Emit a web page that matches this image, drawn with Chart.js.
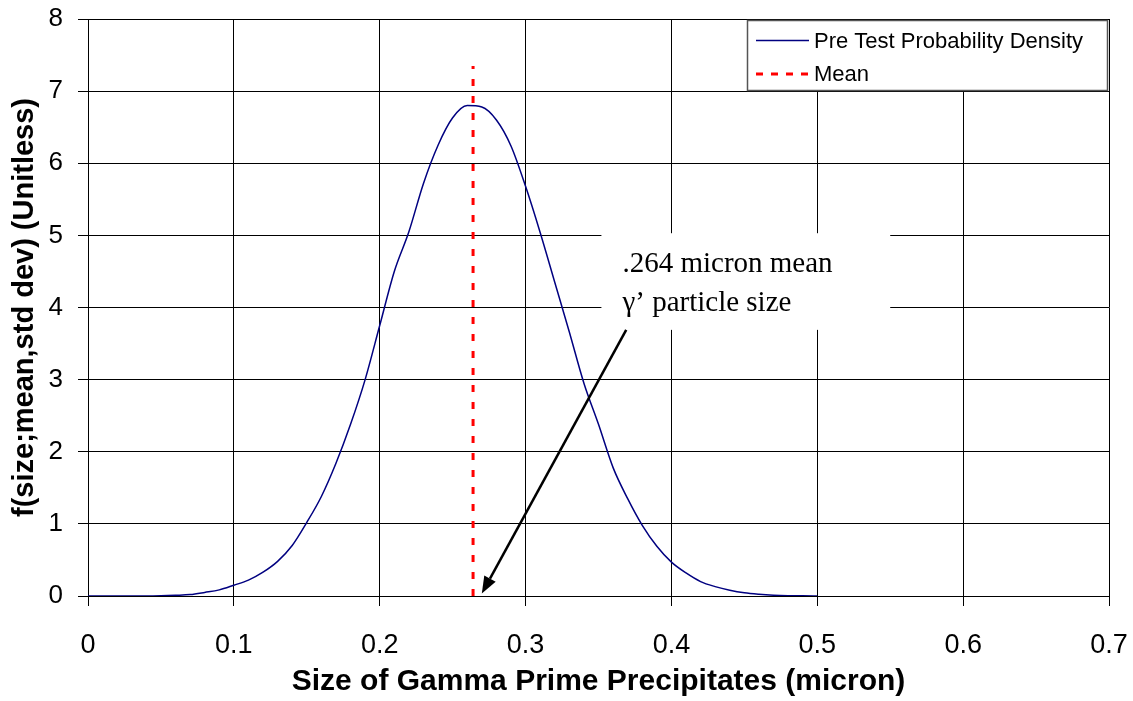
<!DOCTYPE html>
<html lang="en">
<head>
<meta charset="UTF-8">
<title>Gamma Prime Precipitate Size</title>
<style>
    body { margin: 0; background: #fff; }
    #chart { display: block; }
</style>
</head>
<body>
<canvas id="chart" width="1133" height="701"></canvas>

<script src="https://cdn.jsdelivr.net/npm/chart.js"></script>
<script>
    // size of gamma prime precipitates (micron) and density
    const sizes = [0, 0.01, 0.02, 0.03, 0.04, 0.05, 0.06, 0.07, 0.08, 0.09,
                   0.10, 0.11, 0.12, 0.13, 0.14, 0.15, 0.16, 0.17, 0.18, 0.19,
                   0.20, 0.21, 0.22, 0.23, 0.24, 0.25, 0.26, 0.27, 0.28, 0.29,
                   0.30, 0.31, 0.32, 0.33, 0.34, 0.35, 0.36, 0.37, 0.38, 0.39,
                   0.40, 0.41, 0.42, 0.43, 0.44, 0.45, 0.46, 0.47, 0.48, 0.49, 0.50];
    const density = [0, 0, 0, 0, 0, 0.003, 0.01, 0.02, 0.05, 0.085,
                     0.15, 0.22, 0.33, 0.48, 0.70, 1.02, 1.38, 1.84, 2.38, 3.0,
                     3.75, 4.5, 5.05, 5.72, 6.25, 6.63, 6.80, 6.78, 6.60, 6.24,
                     5.68, 5.04, 4.35, 3.66, 2.95, 2.38, 1.78, 1.35, 0.98, 0.69,
                     0.47, 0.32, 0.20, 0.13, 0.08, 0.045, 0.025, 0.012, 0.005, 0.002, 0];

    const meanSize = 0.264;
    const meanLineTop = 7.35;

    const xTicks = [0, 0.1, 0.2, 0.3, 0.4, 0.5, 0.6, 0.7];
    const xTickLabels = ['0', '0.1', '0.2', '0.3', '0.4', '0.5', '0.6', '0.7'];
    const yTicks = [0, 1, 2, 3, 4, 5, 6, 7, 8];

    const calloutLines = ['.264 micron mean', '\u03b3\u2019 particle size'];
    const calloutBox = [0.352, 5.03, 0.550, 3.69];   // x0, y0, x1, y1 in data units
    const arrowFrom = [0.369, 3.69];
    const arrowTo = [0.270, 0.035];

    Chart.defaults.color = '#000';
    Chart.defaults.font.family = '"Liberation Sans", Arial, sans-serif';

    // legend box and callout drawn on top of the plot
    const overlay = {
        id: 'overlay',
        afterDraw(chart) {
            const ctx = chart.ctx;
            const x = chart.scales.x, y = chart.scales.y;
            ctx.save();

            // callout
            const bx0 = x.getPixelForValue(calloutBox[0]);
            const by0 = y.getPixelForValue(calloutBox[1]);
            const bx1 = x.getPixelForValue(calloutBox[2]);
            const by1 = y.getPixelForValue(calloutBox[3]);
            ctx.fillStyle = '#fff';
            ctx.fillRect(bx0, by0, bx1 - bx0, by1 - by0);
            ctx.fillStyle = '#000';
            ctx.font = '29px "Liberation Serif", "Times New Roman", serif';
            ctx.textBaseline = 'alphabetic';
            ctx.textAlign = 'left';
            ctx.fillText(calloutLines[0], bx0 + 21, by0 + 39);
            ctx.fillText(calloutLines[1], bx0 + 21, by0 + 78);

            // arrow
            const ax0 = x.getPixelForValue(arrowFrom[0]), ay0 = y.getPixelForValue(arrowFrom[1]);
            const ax1 = x.getPixelForValue(arrowTo[0]), ay1 = y.getPixelForValue(arrowTo[1]);
            const ang = Math.atan2(ay1 - ay0, ax1 - ax0);
            const headLen = 17, headW = 6.5;
            const hx = ax1 - headLen * Math.cos(ang), hy = ay1 - headLen * Math.sin(ang);
            ctx.strokeStyle = '#000';
            ctx.lineWidth = 2.5;
            ctx.beginPath();
            ctx.moveTo(ax0, ay0);
            ctx.lineTo(hx, hy);
            ctx.stroke();
            ctx.beginPath();
            ctx.moveTo(ax1, ay1);
            ctx.lineTo(hx + headW * Math.sin(ang), hy - headW * Math.cos(ang));
            ctx.lineTo(hx - headW * Math.sin(ang), hy + headW * Math.cos(ang));
            ctx.closePath();
            ctx.fill();

            // legend
            const lx = 747.5, ly = 20.5, lw = 360, lh = 70;
            ctx.fillStyle = '#fff';
            ctx.fillRect(lx, ly, lw, lh);
            ctx.strokeStyle = '#555';
            ctx.lineWidth = 1.5;
            ctx.strokeRect(lx, ly, lw, lh);
            ctx.font = '22px "Liberation Sans", Arial, sans-serif';
            ctx.textBaseline = 'middle';
            const rows = [41.5, 75];
            chart.data.datasets.forEach((ds, i) => {
                const ry = rows[i];
                ctx.strokeStyle = ds.borderColor;
                ctx.lineWidth = ds.borderWidth;
                ctx.setLineDash(i === 1 ? [7, 8] : []);
                ctx.beginPath();
                ctx.moveTo(756, ry - 1);
                ctx.lineTo(809, ry - 1);
                ctx.stroke();
                ctx.setLineDash([]);
                ctx.fillStyle = '#000';
                ctx.fillText(ds.label, 814, ry);
            });
            ctx.restore();
        }
    };

    new Chart(document.getElementById('chart'), {
        type: 'line',
        data: {
            datasets: [{
                label: 'Pre Test Probability Density',
                data: sizes.map((s, i) => ({ x: s, y: density[i] })),
                borderColor: '#000080',
                borderWidth: 1.5,
                pointRadius: 0,
                cubicInterpolationMode: 'monotone',
                order: 2
            }, {
                label: 'Mean',
                data: [{ x: meanSize, y: 0 }, { x: meanSize, y: meanLineTop }],
                borderColor: '#ff0000',
                borderWidth: 3,
                borderDash: [7, 10],
                pointRadius: 0,
                order: 1
            }]
        },
        options: {
            responsive: false,
            animation: false,
            layout: { padding: { top: 19, right: 24, left: 0, bottom: 0 } },
            plugins: {
                legend: { display: false },
                tooltip: { enabled: false }
            },
            scales: {
                x: {
                    type: 'linear',
                    min: 0,
                    max: 0.7,
                    afterBuildTicks: s => { s.ticks = xTicks.map(v => ({ value: v })); },
                    afterFit: s => {
                        s.height = 105;
                        s.paddingLeft = 0;
                        s.paddingRight = 0;
                    },
                    ticks: {
                        font: { size: 27 },
                        padding: 23,
                        maxRotation: 0,
                        callback: (v, i) => xTickLabels[i]
                    },
                    grid: { color: '#000', lineWidth: 1, tickLength: 10 },
                    border: { color: '#000', width: 1 },
                    title: {
                        display: true,
                        text: 'Size of Gamma Prime Precipitates (micron)',
                        font: { size: 30, weight: 'bold', lineHeight: 1 },
                        padding: { top: 0, bottom: 4 }
                    }
                },
                y: {
                    type: 'linear',
                    min: 0,
                    max: 8,
                    afterBuildTicks: s => { s.ticks = yTicks.map(v => ({ value: v })); },
                    afterFit: s => {
                        s.width = 88;
                        s.paddingTop = 0;
                        s.paddingBottom = 0;
                    },
                    ticks: {
                        font: { size: 26 },
                        padding: 15
                    },
                    grid: { color: '#000', lineWidth: 1, tickLength: 10 },
                    border: { color: '#000', width: 1 },
                    title: {
                        display: true,
                        text: 'f(size;mean,std dev) (Unitless)',
                        font: { size: 29, weight: 'bold', lineHeight: 1 },
                        padding: { top: 10, bottom: 0 }
                    }
                }
            }
        },
        plugins: [overlay]
    });
</script>
</body>
</html>
